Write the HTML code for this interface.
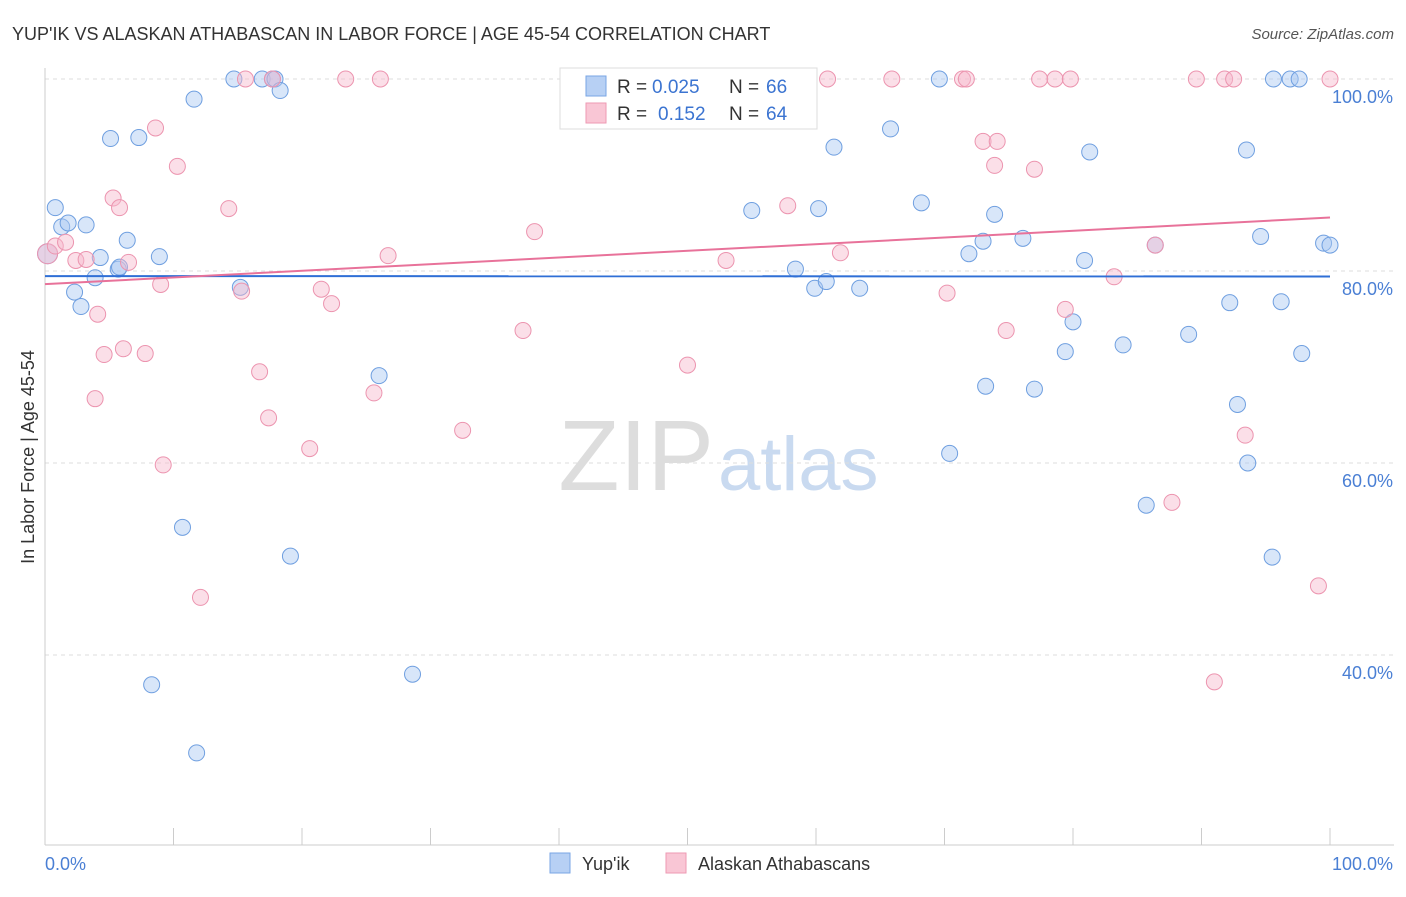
<!DOCTYPE html>
<html><head><meta charset="utf-8"><style>
body{margin:0;background:#fff;font-family:"Liberation Sans",sans-serif;}
svg text{font-family:"Liberation Sans",sans-serif;}
</style></head><body>
<svg width="1406" height="892" xmlns="http://www.w3.org/2000/svg" id="chart">
<text x="12" y="40" font-size="18" fill="#333">YUP'IK VS ALASKAN ATHABASCAN IN LABOR FORCE | AGE 45-54 CORRELATION CHART</text>
<text x="1394" y="39" font-size="15" fill="#555" font-style="italic" text-anchor="end">Source: ZipAtlas.com</text>
<text x="714" y="490" font-size="100" fill="#ddd" font-family="Liberation Serif" text-anchor="end">ZIP</text>
<text x="718" y="490" font-size="76" fill="#c9daf0">atlas</text>
<g id="grid"></g><g id="pts"></g><g id="lines"></g>
<text transform="translate(34,457) rotate(-90)" font-size="18" fill="#333" text-anchor="middle">In Labor Force | Age 45-54</text>
<text x="45" y="870" font-size="18" fill="#4a7fd4">0.0%</text>
<text x="1393" y="870" font-size="18" fill="#4a7fd4" text-anchor="end">100.0%</text>
<g>
<rect x="560" y="68" width="257" height="61" fill="#fff" stroke="#ddd"/>
<rect x="586" y="76" width="20" height="20" fill="#b7d0f4" stroke="#7aa6e4"/>
<rect x="586" y="103" width="20" height="20" fill="#f9c6d5" stroke="#ee9ab3"/>
<text x="617" y="93" font-size="19" fill="#333">R =</text>
<text x="652" y="93" font-size="19" fill="#3b74d1">0.025</text>
<text x="729" y="93" font-size="19" fill="#333">N =</text>
<text x="766" y="93" font-size="19" fill="#3b74d1">66</text>
<text x="617" y="120" font-size="19" fill="#333">R =</text>
<text x="658" y="120" font-size="19" fill="#3b74d1">0.152</text>
<text x="729" y="120" font-size="19" fill="#333">N =</text>
<text x="766" y="120" font-size="19" fill="#3b74d1">64</text>
</g>
<g>
<rect x="550" y="853" width="20" height="20" fill="#b7d0f4" stroke="#7aa6e4"/>
<text x="582" y="870" font-size="18" fill="#333">Yup'ik</text>
<rect x="666" y="853" width="20" height="20" fill="#f9c6d5" stroke="#ee9ab3"/>
<text x="698" y="870" font-size="18" fill="#333">Alaskan Athabascans</text>
</g>
</svg>
<script>
const yTicks=[100,80,60,40];
const xTicks=[0,10,20,30,40,50,60,70,80,90,100];
const blueX=[0.2,0.8,1.3,1.8,3.2,2.3,2.8,3.9,4.3,5.1,5.7,5.8,6.4,7.3,8.3,8.9,10.7,11.6,11.8,14.7,15.2,16.9,17.7,17.9,18.3,19.1,26.0,28.6,55.0,58.4,59.9,60.2,60.8,61.4,63.4,65.8,68.2,69.6,70.4,71.9,73.0,73.2,73.9,76.1,77.0,79.4,80.0,80.9,81.3,83.9,86.4,85.7,89.0,92.2,92.8,93.5,93.6,94.6,95.5,95.6,96.9,97.6,96.2,97.8,99.5,100];
const blueY=[81.8,86.6,84.6,85.0,84.8,77.8,76.3,79.3,81.4,93.8,80.2,80.4,83.2,93.9,36.9,81.5,53.3,97.9,29.8,100,78.3,100,100,100,98.8,50.3,69.1,38.0,86.3,80.2,78.2,86.5,78.9,92.9,78.2,94.8,87.1,100,61.0,81.8,83.1,68.0,85.9,83.4,67.7,71.6,74.7,81.1,92.4,72.3,82.7,55.6,73.4,76.7,66.1,92.6,60.0,83.6,50.2,100,100,100,76.8,71.4,82.9,82.7];
const pinkX=[0.2,0.8,1.6,2.4,3.2,3.9,4.1,4.6,5.3,5.8,6.1,6.5,7.8,8.6,9.0,9.2,10.3,12.1,14.3,15.3,16.7,17.4,17.7,15.6,21.5,20.6,22.3,23.4,25.6,26.1,26.7,32.5,37.2,38.1,50.0,53.0,57.8,60.9,61.9,65.9,70.2,71.4,71.7,73.0,73.9,74.1,74.8,77.0,77.4,78.6,79.4,79.8,83.2,86.4,87.7,89.6,91.0,91.8,92.5,93.4,99.1,100];
const pinkY=[81.8,82.6,83.0,81.1,81.2,66.7,75.5,71.3,87.6,86.6,71.9,80.9,71.4,94.9,78.6,59.8,90.9,46.0,86.5,77.9,69.5,64.7,100,100,78.1,61.5,76.6,100,67.3,100,81.6,63.4,73.8,84.1,70.2,81.1,86.8,100,81.9,100,77.7,100,100,93.5,91.0,93.5,73.8,90.6,100,100,76.0,100,79.4,82.7,55.9,100,37.2,100,100,62.9,47.2,100];
const NS='http://www.w3.org/2000/svg';
const X=v=>45+v*12.85, Y=v=>79+(100-v)*9.6;
function mk(t,a,p){const e=document.createElementNS(NS,t);for(const k in a)e.setAttribute(k,a[k]);document.getElementById(p).appendChild(e);return e;}
yTicks.forEach(t=>{
 const l=mk('line',{x1:45,x2:1394,y1:Y(t),y2:Y(t),stroke:'#ddd','stroke-dasharray':'4,4'},'grid');
 
 
 const tx=mk('text',{x:1393,y:Y(t)+24,'font-size':18,fill:'#4a7fd4','text-anchor':'end'},'grid');
 tx.textContent=t.toFixed(1)+'%';
 
 
});
mk('line',{x1:45,x2:45,y1:68,y2:845,stroke:'#ccc'},'grid');
mk('line',{x1:45,x2:1394,y1:845,y2:845,stroke:'#ccc'},'grid');
xTicks.forEach(t=>{
 const l=mk('line',{x1:X(t),x2:X(t),y1:828,y2:845,stroke:'#ccc'},'grid');
 
 
});
function dots(xs,ys,fill,stroke,name){xs.forEach((x,i)=>{
 const c=mk('circle',{cx:X(x),cy:Y(ys[i]),r:i==0?10:8,fill:fill,'fill-opacity':0.45,stroke:stroke,'stroke-width':1},'pts');
 
 
});}
dots(blueX,blueY,'#a9c7f1','#6f9fe0','yupik-point');
dots(pinkX,pinkY,'#f7b8cb','#ec94af','athabascan-point');
function fit(xs,ys){const n=xs.length;let mx=0,my=0;xs.forEach((x,i)=>{mx+=x;my+=ys[i]});mx/=n;my/=n;let sxy=0,sxx=0;xs.forEach((x,i)=>{sxy+=(x-mx)*(ys[i]-my);sxx+=(x-mx)**2});const b=sxy/sxx;return [my-b*mx,b];}
[[blueX,blueY,'#2f6fd6','yupik-trendline'],[pinkX,pinkY,'#e8729a','athabascan-trendline']].forEach(([xs,ys,c,n])=>{
 const [a,b]=fit(xs,ys);
 const l=mk('line',{x1:X(0),y1:Y(a),x2:X(100),y2:Y(a+100*b),stroke:c,'stroke-width':2},'lines');
 
 
});
</script>
</body></html>
